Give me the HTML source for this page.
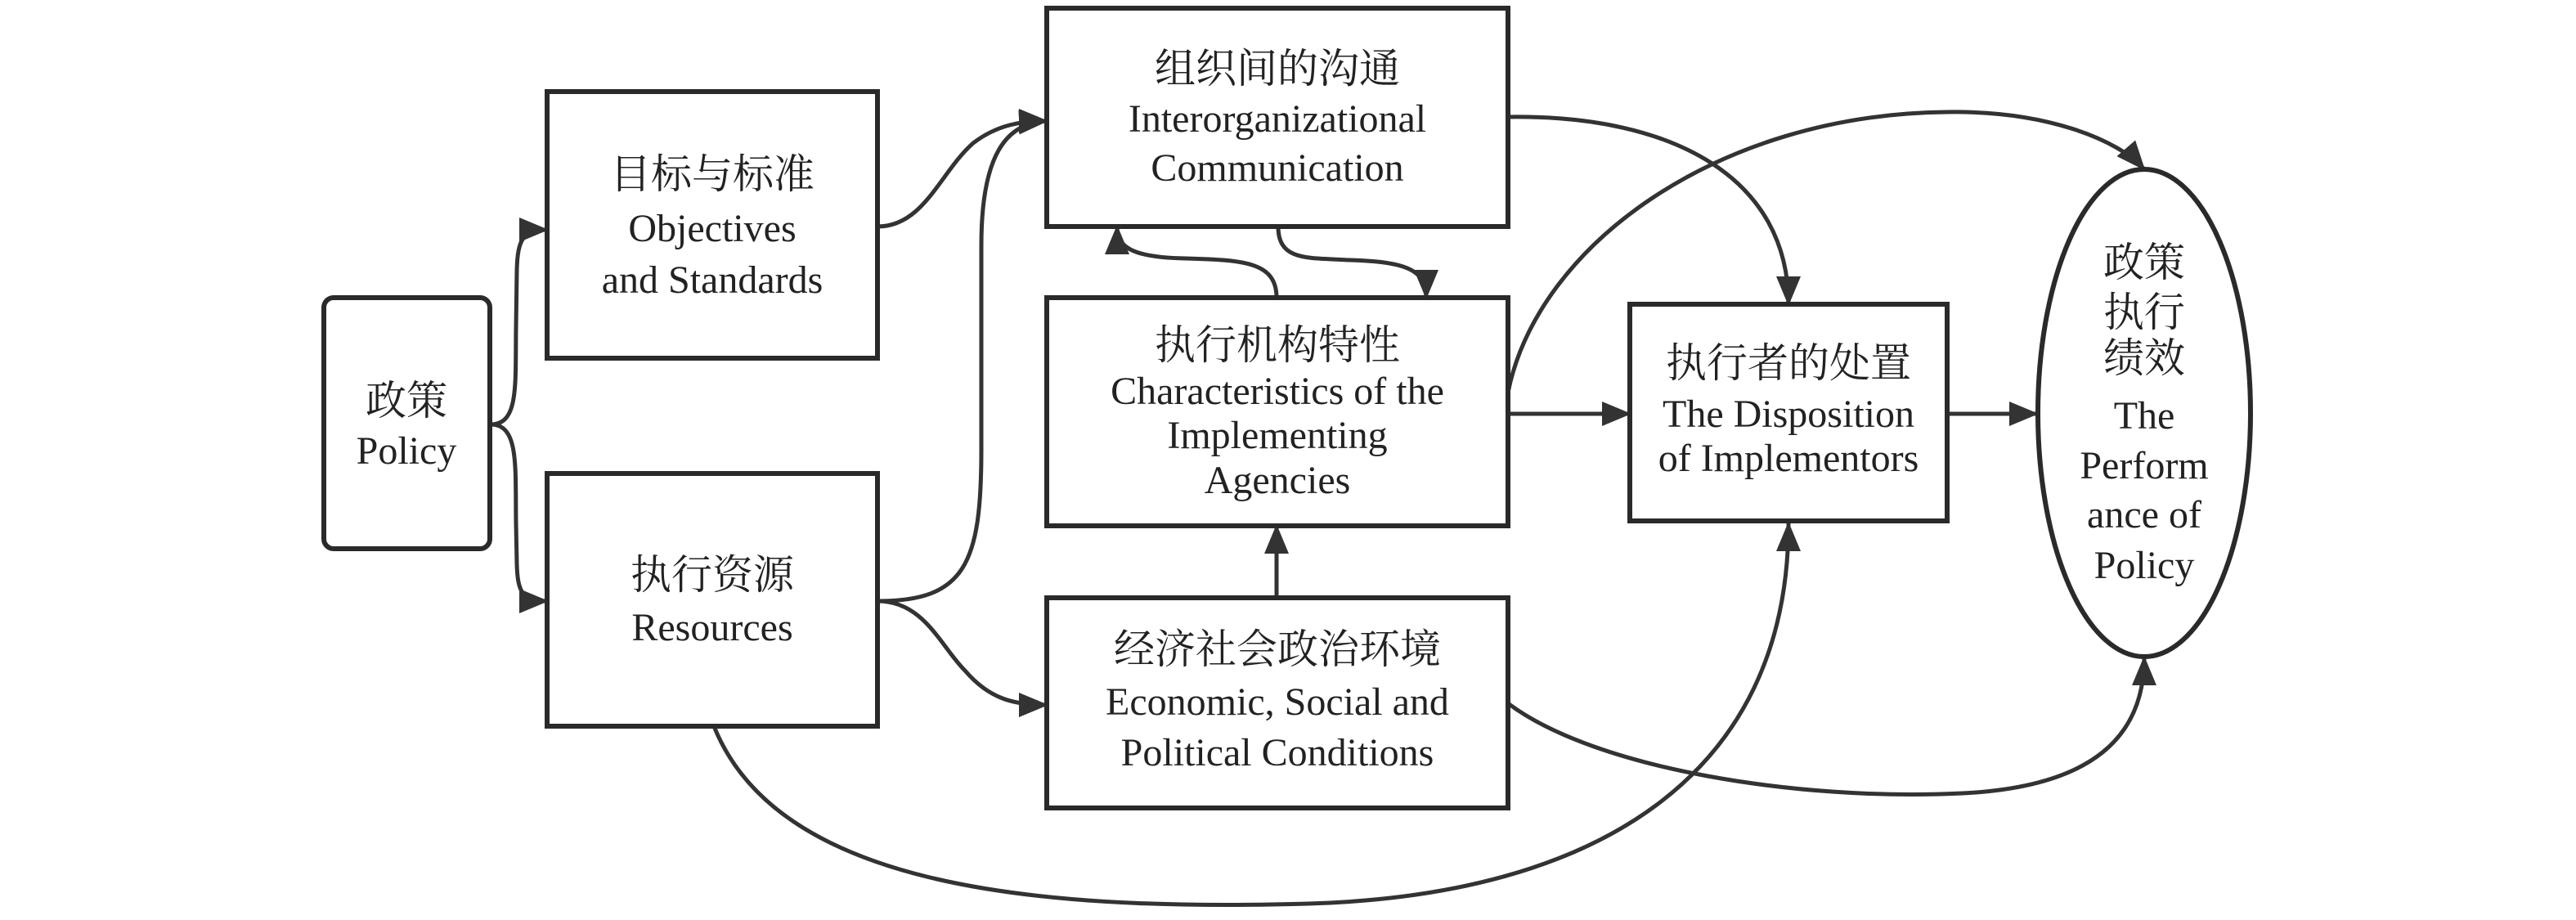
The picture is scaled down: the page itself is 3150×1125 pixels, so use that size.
<!DOCTYPE html>
<html><head><meta charset="utf-8"><style>
html,body{margin:0;padding:0;background:#fff}
svg{display:block}
text{font-family:"Liberation Serif","Noto Serif CJK SC",serif;font-size:48px;fill:#222;text-anchor:middle}
.c{font-family:"Liberation Serif","Noto Serif CJK SC","Noto Sans CJK SC",serif;font-size:50px}
</style></head><body>
<svg width="3150" height="1125" viewBox="0 0 3150 1125" xmlns="http://www.w3.org/2000/svg">
<defs>
<marker id="a" markerUnits="userSpaceOnUse" markerWidth="36" markerHeight="30" refX="34" refY="15" orient="auto">
<path d="M0,0 L36,15 L0,30 Z" fill="#333"/>
</marker>
</defs>
<g fill="none" stroke="#333" stroke-width="5">
<path d="M600,519 C635,519 630,470 631,400 L632,330 C633,292 640,281 669,281" marker-end="url(#a)"/>
<path d="M600,519 C635,519 630,570 631,640 L632,690 C633,726 640,735 669,735" marker-end="url(#a)"/>
<path d="M1073,277 C1130,277 1150,210 1190,175 C1220,152 1250,148 1280,148" marker-end="url(#a)"/>
<path d="M1073,735 C1180,735 1200,690 1200,550 L1200,300 C1200,190 1230,150 1280,148" marker-end="url(#a)"/>
<path d="M1073,735 C1130,735 1150,790 1180,820 C1210,855 1240,862 1280,862" marker-end="url(#a)"/>
<path d="M873,888 C950,1080 1250,1115 1600,1105 C1950,1095 2187,950 2187,640" marker-end="url(#a)"/>
<path d="M1844,143 C2050,140 2187,220 2187,372" marker-end="url(#a)"/>
<path d="M1563,277 C1563,320 1600,315 1650,318 C1720,320 1744,330 1744,364" marker-end="url(#a)"/>
<path d="M1561,364 C1561,320 1520,318 1450,316 C1380,315 1366,300 1366,277" marker-end="url(#a)"/>
<path d="M1561,731 L1561,643" marker-end="url(#a)"/>
<path d="M1844,506 L1993,506" marker-end="url(#a)"/>
<path d="M1844,480 C1880,300 2100,140 2380,137 C2500,135 2590,170 2622,207" marker-end="url(#a)"/>
<path d="M2381,506 L2491,506" marker-end="url(#a)"/>
<path d="M1844,860 C1950,940 2200,980 2400,970 C2560,962 2622,900 2622,804" marker-end="url(#a)"/>
</g>
<g fill="#fff" stroke="#2a2a2a" stroke-width="6">
<rect x="396" y="364" width="203" height="307" rx="12"/>
<rect x="669" y="112" width="404" height="326"/>
<rect x="669" y="579" width="404" height="309"/>
<rect x="1280" y="10" width="564" height="267"/>
<rect x="1280" y="364" width="564" height="279"/>
<rect x="1280" y="731" width="564" height="257"/>
<rect x="1993" y="372" width="388" height="265"/>
<ellipse cx="2622" cy="505" rx="130" ry="298"/>
</g>
<text class="c" x="497" y="507">政策</text>
<text x="497" y="567">Policy</text>
<text class="c" x="871" y="230">目标与标准</text>
<text x="871" y="295">Objectives</text>
<text x="871" y="358">and Standards</text>
<text class="c" x="871" y="720">执行资源</text>
<text x="871" y="783">Resources</text>
<text class="c" x="1562" y="101">组织间的沟通</text>
<text x="1562" y="161">Interorganizational</text>
<text x="1562" y="221">Communication</text>
<text class="c" x="1562" y="439">执行机构特性</text>
<text x="1562" y="494">Characteristics of the</text>
<text x="1562" y="548">Implementing</text>
<text x="1562" y="603">Agencies</text>
<text class="c" x="1562" y="811">经济社会政治环境</text>
<text x="1562" y="874">Economic, Social and</text>
<text x="1562" y="936">Political Conditions</text>
<text class="c" x="2187" y="461">执行者的处置</text>
<text x="2187" y="522">The Disposition</text>
<text x="2187" y="576">of Implementors</text>
<text class="c" x="2622" y="338">政策</text>
<text class="c" x="2622" y="399">执行</text>
<text class="c" x="2622" y="455">绩效</text>
<text x="2622" y="524">The</text>
<text x="2622" y="585">Perform</text>
<text x="2622" y="645">ance of</text>
<text x="2622" y="707">Policy</text>
</svg>
</body></html>
